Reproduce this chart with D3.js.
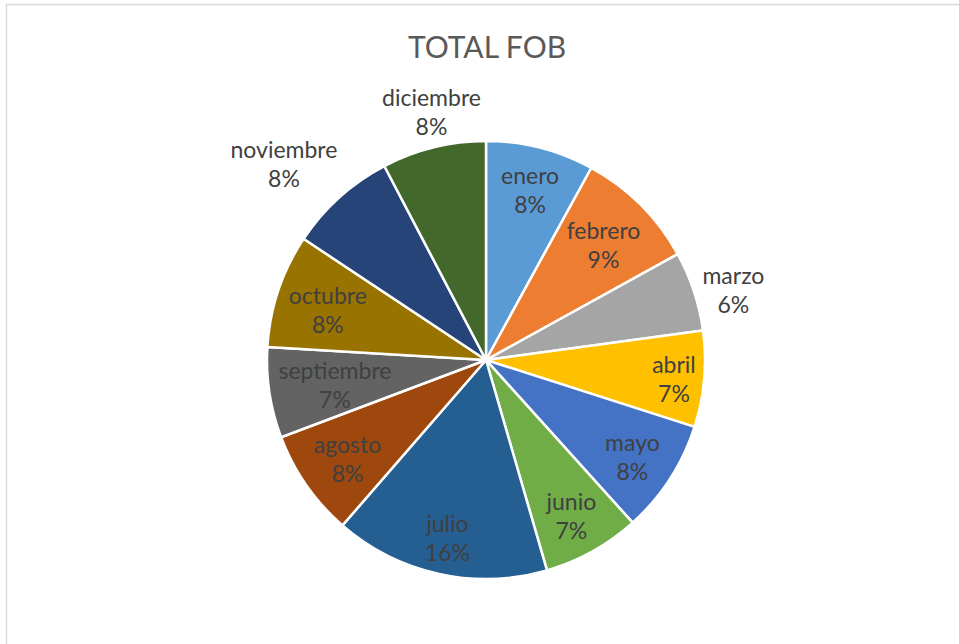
<!DOCTYPE html>
<html>
<head>
<meta charset="utf-8">
<script src="https://cdn.jsdelivr.net/npm/d3@7"></script>
<style>
  html, body { margin: 0; padding: 0; background: #fff; }
  svg { display: block; }
</style>
</head>
<body>
<svg id="chart" width="959" height="644"></svg>
<script>
// ---- data ----
const months = ["enero","febrero","marzo","abril","mayo","junio","julio","agosto","septiembre","octubre","noviembre","diciembre"];
const values = [8.0, 9.0, 5.9, 7.1, 8.4, 7.2, 15.9, 7.9, 6.7, 8.4, 8.0, 7.7];
const colors = ["#5B9BD5","#ED7D31","#A5A5A5","#FFC000","#4472C4","#70AD47","#255E91","#9E480E","#636363","#997300","#264478","#43682B"];
const outsideLabels = ["marzo","noviembre","diciembre"];
const title = "TOTAL FOB";

// ---- layout ----
const W = 959, H = 644;
const cx = 486, cy = 360, R = 219;
const font = "Lato, 'Open Sans', sans-serif";
const labelSize = 23, lineH = 29;

const svg = d3.select("#chart");

// chart border
svg.append("rect")
  .attr("x", 6.5).attr("y", 4.5)
  .attr("width", W + 20).attr("height", H + 20)
  .attr("fill", "#fff").attr("stroke", "#d9d9d9").attr("stroke-width", 1.5);

svg.append("text")
  .attr("x", 487).attr("y", 58)
  .attr("text-anchor", "middle")
  .attr("font-family", font)
  .attr("font-size", 30)
  .attr("fill", "#595959")
  .text(title);

const total = d3.sum(values);
const data = months.map((m, i) => ({ month: m, value: values[i], color: colors[i] }));

const pie = d3.pie().value(d => d.value).sort(null);
const arcs = pie(data);
const arc = d3.arc().innerRadius(0).outerRadius(R);

const g = svg.append("g").attr("transform", `translate(${cx},${cy})`);

g.selectAll("path.slice")
  .data(arcs)
  .join("path")
  .attr("class", "slice")
  .attr("d", arc)
  .attr("fill", d => d.data.color)
  .attr("stroke", "#fff")
  .attr("stroke-width", 2.5)
  .attr("stroke-linejoin", "round");

const fmt = v => Math.round(v / total * 100) + "%";
const clamp = v => Math.max(0, Math.min(1, v));

const lbl = g.selectAll("g.lbl")
  .data(arcs)
  .join("g")
  .attr("class", "lbl");

lbl.each(function(d) {
  const sel = d3.select(this);
  const mk = txt => sel.append("text")
    .attr("text-anchor", "middle")
    .attr("font-family", font)
    .attr("font-size", labelSize)
    .attr("fill", "#404040")
    .text(txt);
  const t1 = mk(d.data.month);
  const t2 = mk(fmt(d.data.value));
  const w = Math.max(t1.node().getComputedTextLength(), t2.node().getComputedTextLength());
  const h = lineH * 2;
  const a = (d.startAngle + d.endAngle) / 2;
  const s = Math.sin(a), c = Math.cos(a);
  let x, y;
  if (outsideLabels.includes(d.data.month)) {
    const r = R + 9;
    x = r * s + Math.sign(s) * (w / 2) * clamp((Math.abs(s) - 0.3) / 0.4);
    y = -r * c - Math.sign(c) * (h / 2) * clamp((Math.abs(c) - 0.3) / 0.4);
  } else {
    // inside end: box edge sits just inside the rim along the mid-angle
    const support = Math.abs(s) * w / 2 + Math.abs(c) * h / 2;
    const r = (R - 6) - support;
    x = r * s;
    y = -r * c;
  }
  t1.attr("x", x).attr("y", y - lineH / 2 + 11);
  t2.attr("x", x).attr("y", y + lineH / 2 + 11);
});
</script>
</body>
</html>
